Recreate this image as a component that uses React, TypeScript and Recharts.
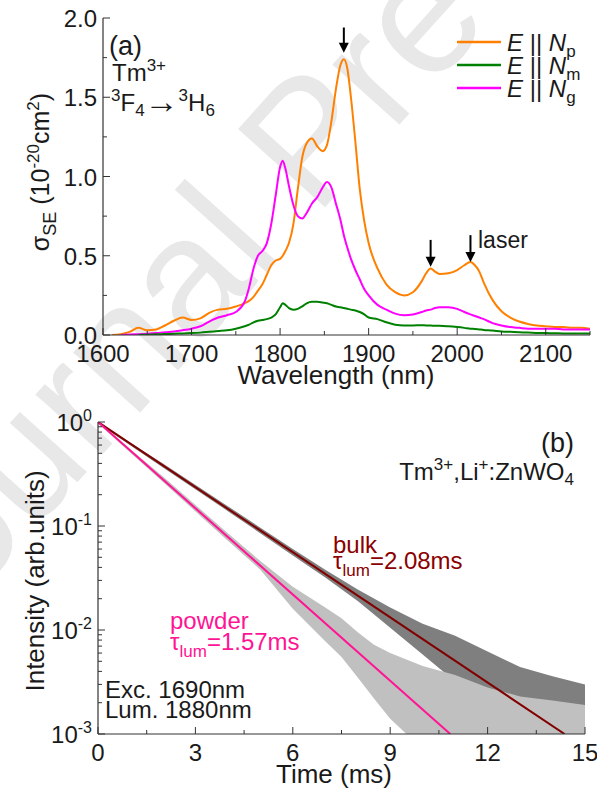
import React from "react";
import {
  LineChart,
  ComposedChart,
  Line,
  Area,
  XAxis,
  YAxis,
  ReferenceLine,
} from "recharts";

const FONT = '"Liberation Sans", Arial, sans-serif';
const AX = "#333";
const INK = "#1a1a1a";

// panel (a): emission cross-sections, 10^-20 cm^2
const wavelengths = [
  1600, 1610, 1620, 1630, 1640, 1650, 1660, 1670, 1680, 1690,
  1700, 1710, 1720, 1730, 1740, 1750, 1760, 1765, 1770, 1775,
  1780, 1785, 1790, 1795, 1800, 1803, 1806, 1810, 1815, 1820,
  1825, 1830, 1836, 1842, 1848, 1853, 1858, 1863, 1868, 1872,
  1876, 1880, 1885, 1890, 1895, 1900, 1910, 1920, 1930, 1940,
  1950, 1960, 1965, 1970, 1975, 1980, 1990, 2000, 2008, 2015,
  2020, 2025, 2030, 2040, 2050, 2060, 2070, 2080, 2090, 2100,
  2110, 2120, 2130, 2140, 2150,
];
const sigmaNp = [
  null, 0.0, 0.005, 0.02, 0.045, 0.03, 0.035, 0.06, 0.09, 0.11,
  0.095, 0.105, 0.14, 0.16, 0.165, 0.18, 0.2, 0.215, 0.24, 0.28,
  0.32, 0.38, 0.44, 0.47, 0.48, 0.5, 0.53, 0.58, 0.7, 0.92,
  1.12, 1.21, 1.24, 1.19, 1.16, 1.2, 1.35, 1.55, 1.7, 1.74,
  1.68, 1.5, 1.22, 0.92, 0.72, 0.58, 0.42, 0.32, 0.27, 0.25,
  0.27, 0.34, 0.39, 0.42, 0.4, 0.385, 0.39, 0.41, 0.44, 0.46,
  0.44, 0.4, 0.33, 0.22, 0.15, 0.11, 0.085, 0.07, 0.06, 0.055,
  0.05, 0.05, 0.045, 0.045, 0.04,
];
const sigmaNm = [
  null, null, null, null, 0.0, 0.002, 0.004, 0.006, 0.008, 0.01,
  0.012, 0.015, 0.02, 0.025, 0.03, 0.04, 0.055, 0.065, 0.08, 0.09,
  0.095, 0.1, 0.11, 0.13, 0.175, 0.2, 0.19, 0.17, 0.16, 0.165,
  0.18, 0.2, 0.21, 0.21, 0.205, 0.2, 0.19, 0.18, 0.175, 0.17,
  0.165, 0.16, 0.155, 0.145, 0.13, 0.11, 0.1, 0.08, 0.065, 0.06,
  0.06, 0.062, 0.06, 0.06, 0.058, 0.058, 0.055, 0.05, 0.045, 0.04,
  0.038, 0.035, 0.032, 0.028, 0.022, 0.02, 0.018, 0.015, 0.013, 0.012,
  0.011, 0.01, 0.01, 0.01, 0.01,
];
const sigmaNg = [
  null, null, 0.0, 0.003, 0.005, 0.008, 0.012, 0.018, 0.022, 0.03,
  0.04, 0.055, 0.085, 0.11, 0.125, 0.145, 0.21, 0.3, 0.42, 0.5,
  0.53, 0.58, 0.7, 0.88, 1.06, 1.1, 1.05, 0.94, 0.82, 0.75,
  0.735, 0.77, 0.83, 0.87, 0.93, 0.965, 0.93, 0.83, 0.73, 0.63,
  0.55, 0.48, 0.41, 0.35, 0.29, 0.25, 0.19, 0.16, 0.135, 0.125,
  0.13, 0.145, 0.155, 0.16, 0.17, 0.175, 0.175, 0.165, 0.145, 0.13,
  0.12, 0.11, 0.1, 0.075, 0.06, 0.05, 0.045, 0.04, 0.04, 0.04,
  0.04, 0.035, 0.035, 0.035, 0.035,
];
const wlTicks = [1600, 1650, 1700, 1750, 1800, 1850, 1900, 1950, 2000, 2050, 2100, 2150];
const sigmaTicks = [0, 0.25, 0.5, 0.75, 1, 1.25, 1.5, 1.75, 2];
// arrows: wavelength, tail value, tip value
const arrowWl = [1872, 1970, 2015];
const arrowTail = [1.94, 0.6, 0.63];
const arrowTip = [1.78, 0.43, 0.46];

// panel (b): decay curves (band = spread of measured points)
const bulkTime = [0, 2, 4, 6, 7, 8, 9, 10, 11, 12, 13, 14, 15];
const bulkHigh = [1.0, 0.4, 0.155, 0.06, 0.038, 0.0245, 0.0165, 0.0115, 0.0088, 0.0062, 0.0044, 0.0036, 0.003];
const bulkLow = [0.97, 0.365, 0.139, 0.052, 0.032, 0.019, 0.0105, 0.0058, 0.0032, 0.0019, 0.0012, 0.001, 0.001];
const powderTime = [0, 2, 4, 5, 6, 7, 7.5, 8, 8.5, 9, 9.5, 10, 11, 12, 13, 14, 15];
const powderHigh = [1.0, 0.3, 0.085, 0.046, 0.026, 0.0165, 0.013, 0.0095, 0.0072, 0.006, 0.0052, 0.0045, 0.0037, 0.0028, 0.0023, 0.0021, 0.0019];
const powderLow = [0.97, 0.265, 0.072, 0.038, 0.016, 0.0078, 0.0055, 0.0035, 0.0022, 0.0014, 0.001, 0.001, 0.001, 0.001, 0.001, 0.001, 0.001];
const bulkFitTime = [0, 14.37];
const bulkFitValue = [1, 0.001];
const powderFitTime = [0, 10.85];
const powderFitValue = [1, 0.001];
const timeTicks = [0, 1.5, 3, 4.5, 6, 7.5, 9, 10.5, 12, 13.5, 15];
const decayTicks = [
  0.001, 0.002, 0.003, 0.004, 0.005, 0.006, 0.007, 0.008, 0.009,
  0.01, 0.02, 0.03, 0.04, 0.05, 0.06, 0.07, 0.08, 0.09,
  0.1, 0.2, 0.3, 0.4, 0.5, 0.6, 0.7, 0.8, 0.9, 1,
];

const specRows = wavelengths.map((wl, i) => ({
  wl,
  np: sigmaNp[i],
  nm: sigmaNm[i],
  ng: sigmaNg[i],
}));
const bulkBand = bulkTime.map((t, i) => ({ t, band: [bulkLow[i], bulkHigh[i]] }));
const powderBand = powderTime.map((t, i) => ({ t, band: [powderLow[i], powderHigh[i]] }));
const bulkFit = bulkFitTime.map((t, i) => ({ t, v: bulkFitValue[i] }));
const powderFit = powderFitTime.map((t, i) => ({ t, v: powderFitValue[i] }));

const near = (a: number, b: number) => Math.abs(a - b) < 1e-6;
const isMajorLog = (v: number) => near(Math.log10(v), Math.round(Math.log10(v)));

// ticks point inward; labels sit outside
const makeTick =
  (side: "bottom" | "top" | "left" | "right", isMajor: (v: number) => boolean, label?: (v: number) => React.ReactNode) =>
  (props: any) => {
    const { x, y, payload } = props;
    const v = payload.value;
    const len = isMajor(v) ? 7 : 4;
    let line;
    if (side === "bottom") line = <line x1={x} x2={x} y1={y} y2={y - len} stroke={AX} />;
    else if (side === "top") line = <line x1={x} x2={x} y1={y} y2={y + len} stroke={AX} />;
    else if (side === "left") line = <line x1={x} x2={x + len} y1={y} y2={y} stroke={AX} />;
    else line = <line x1={x} x2={x - len} y1={y} y2={y} stroke={AX} />;
    let text = null;
    if (label && isMajor(v)) {
      text =
        side === "bottom" ? (
          <text x={x} y={y + 27} textAnchor="middle" fontSize={24} fontFamily={FONT} fill={INK}>
            {label(v)}
          </text>
        ) : (
          <text x={x - 6} y={y + 9} textAnchor="end" fontSize={24} fontFamily={FONT} fill={INK}>
            {label(v)}
          </text>
        );
    }
    return (
      <g>
        {line}
        {text}
      </g>
    );
  };

const wlMajor = (v: number) => near(v % 100, 0);
const sigmaMajor = (v: number) => near(v * 2, Math.round(v * 2));
const timeMajor = (v: number) => near(v % 3, 0);

const decayLabel = (v: number) => {
  const e = Math.round(Math.log10(v));
  return (
    <>
      10
      <tspan dy={-10} fontSize={16}>
        {e === 0 ? "0" : "-" + Math.abs(e)}
      </tspan>
    </>
  );
};

const axisCommon = {
  tickLine: false,
  tickSize: 0,
  tickMargin: 0,
  interval: 0 as const,
  allowDataOverflow: true,
  axisLine: { stroke: AX, strokeWidth: 1.2 },
};

const ArrowShape = (props: any) => {
  const { x1, y1, x2, y2 } = props;
  return (
    <g>
      <line x1={x1} x2={x2} y1={y1} y2={y2 - 8} stroke="#000" strokeWidth={2} />
      <polygon points={`${x2 - 5},${y2 - 10} ${x2 + 5},${y2 - 10} ${x2},${y2}`} fill="#000" />
    </g>
  );
};

const SpectraChart = () => (
  <LineChart width={597} height={390} data={specRows} margin={{ top: 18, right: 7, bottom: 0, left: 0 }}>
    <XAxis
      xAxisId="b"
      dataKey="wl"
      type="number"
      domain={[1600, 2150]}
      ticks={wlTicks}
      height={55}
      tick={makeTick("bottom", wlMajor, (v) => String(v))}
      {...axisCommon}
    />
    <XAxis
      xAxisId="t"
      orientation="top"
      dataKey="wl"
      type="number"
      domain={[1600, 2150]}
      ticks={wlTicks}
      height={0}
      tick={makeTick("top", wlMajor)}
      {...axisCommon}
    />
    <YAxis
      yAxisId="l"
      type="number"
      domain={[0, 2]}
      ticks={sigmaTicks}
      width={103}
      tick={makeTick("left", sigmaMajor, (v) => v.toFixed(1))}
      {...axisCommon}
    />
    <YAxis
      yAxisId="r"
      orientation="right"
      type="number"
      domain={[0, 2]}
      ticks={sigmaTicks}
      width={0}
      tick={makeTick("right", sigmaMajor)}
      {...axisCommon}
    />
    <Line xAxisId="b" yAxisId="l" type="monotone" dataKey="np" stroke="#ff8000" strokeWidth={2} dot={false} isAnimationActive={false} />
    <Line xAxisId="b" yAxisId="l" type="monotone" dataKey="ng" stroke="#ff00ff" strokeWidth={2} dot={false} isAnimationActive={false} />
    <Line xAxisId="b" yAxisId="l" type="monotone" dataKey="nm" stroke="#008000" strokeWidth={2} dot={false} isAnimationActive={false} />
    {arrowWl.map((wl, i) => (
      <ReferenceLine
        key={wl}
        xAxisId="b"
        yAxisId="l"
        segment={[
          { x: wl, y: arrowTail[i] },
          { x: wl, y: arrowTip[i] },
        ]}
        ifOverflow="visible"
        shape={ArrowShape}
      />
    ))}
  </LineChart>
);

const DecayChart = () => (
  <ComposedChart width={597} height={401} margin={{ top: 32, right: 12, bottom: 0, left: 0 }}>
    <XAxis
      xAxisId="b"
      dataKey="t"
      type="number"
      domain={[0, 15]}
      ticks={timeTicks}
      height={57}
      tick={makeTick("bottom", timeMajor, (v) => String(v))}
      {...axisCommon}
    />
    <XAxis
      xAxisId="t"
      orientation="top"
      dataKey="t"
      type="number"
      domain={[0, 15]}
      ticks={timeTicks}
      height={0}
      tick={makeTick("top", timeMajor)}
      {...axisCommon}
    />
    <YAxis
      yAxisId="l"
      type="number"
      scale="log"
      domain={[0.001, 1]}
      ticks={decayTicks}
      width={98}
      tick={makeTick("left", isMajorLog, decayLabel)}
      {...axisCommon}
    />
    <YAxis
      yAxisId="r"
      orientation="right"
      type="number"
      scale="log"
      domain={[0.001, 1]}
      ticks={decayTicks}
      width={0}
      tick={makeTick("right", isMajorLog)}
      {...axisCommon}
    />
    <Area xAxisId="b" yAxisId="l" data={bulkBand} dataKey="band" type="linear" fill="#7f7f7f" fillOpacity={1} stroke="none" isAnimationActive={false} />
    <Area xAxisId="b" yAxisId="l" data={powderBand} dataKey="band" type="linear" fill="#c0c0c0" fillOpacity={1} stroke="none" isAnimationActive={false} />
    <Line xAxisId="b" yAxisId="l" data={bulkFit} dataKey="v" type="linear" stroke="#800000" strokeWidth={2} dot={false} isAnimationActive={false} />
    <Line xAxisId="b" yAxisId="l" data={powderFit} dataKey="v" type="linear" stroke="#ff1493" strokeWidth={2} dot={false} isAnimationActive={false} />
  </ComposedChart>
);

const T = (p: any) => <text fontFamily={FONT} fill={INK} {...p} />;

const Annotations = () => (
  <svg width={597} height={791} style={{ position: "absolute", left: 0, top: 0, pointerEvents: "none" }}>
    {/* panel (a) */}
    <T x={109} y={55} fontSize={27}>(a)</T>
    <T x={112} y={81} fontSize={24}>
      Tm<tspan fontSize={17} dy={-10}>3+</tspan>
    </T>
    <T x={111} y={111} fontSize={24}>
      <tspan fontSize={17} dy={-10}>3</tspan>
      <tspan dy={10}>F</tspan>
      <tspan fontSize={17} dy={5}>4</tspan>
      <tspan fontSize={34} dy={-3}>→</tspan>
      <tspan fontSize={17} dy={-12}>3</tspan>
      <tspan dy={10}>H</tspan>
      <tspan fontSize={17} dy={5}>6</tspan>
    </T>
    {[
      { c: "#ff8000", s: "p" },
      { c: "#008000", s: "m" },
      { c: "#ff00ff", s: "g" },
    ].map((d, i) => (
      <g key={d.s}>
        <line x1={457} x2={501} y1={42 + i * 23} y2={42 + i * 23} stroke={d.c} strokeWidth={2.5} />
        <T x={507} y={51 + i * 23} fontSize={24}>
          <tspan fontStyle="italic">E</tspan> || <tspan fontStyle="italic">N</tspan>
          <tspan fontSize={17} dy={6}>{d.s}</tspan>
        </T>
      </g>
    ))}
    <T x={478} y={248} fontSize={23}>laser</T>
    <T x={336} y={384} fontSize={26} textAnchor="middle">Wavelength (nm)</T>
    <T transform="translate(49,172) rotate(-90)" fontSize={25} textAnchor="middle">
      σ<tspan fontSize={18} dy={7}>SE</tspan>
      <tspan dy={-7}> (10</tspan>
      <tspan fontSize={17} dy={-10}>-20</tspan>
      <tspan dy={10}>cm</tspan>
      <tspan fontSize={17} dy={-10}>2</tspan>
      <tspan dy={10}>)</tspan>
    </T>

    {/* panel (b) */}
    <T x={574} y={452} fontSize={27} textAnchor="end">(b)</T>
    <T x={574} y={480} fontSize={24} textAnchor="end">
      Tm<tspan fontSize={17} dy={-10}>3+</tspan>
      <tspan dy={10}>,Li</tspan>
      <tspan fontSize={17} dy={-10}>+</tspan>
      <tspan dy={10}>:ZnWO</tspan>
      <tspan fontSize={17} dy={5}>4</tspan>
    </T>
    <T x={333} y={553} fontSize={24} fill="#8b0000">bulk</T>
    <T x={333} y={569} fontSize={24} fill="#8b0000">
      τ<tspan fontSize={17} dy={7}>lum</tspan>
      <tspan dy={-7}>=2.08ms</tspan>
    </T>
    <T x={170} y={629} fontSize={24} fill="#ff1493">powder</T>
    <T x={170} y={650} fontSize={24} fill="#ff1493">
      τ<tspan fontSize={17} dy={7}>lum</tspan>
      <tspan dy={-7}>=1.57ms</tspan>
    </T>
    <T x={105} y={698} fontSize={24}>Exc. 1690nm</T>
    <T x={105} y={718} fontSize={24}>Lum. 1880nm</T>
    <T x={334} y={783} fontSize={26} textAnchor="middle">Time (ms)</T>
    <T transform="translate(44,581) rotate(-90)" fontSize={26} textAnchor="middle">
      Intensity (arb.units)
    </T>
  </svg>
);

const Watermark = () => (
  <svg width={597} height={791} style={{ position: "absolute", left: 0, top: 0 }}>
    <text
      transform="translate(-89,667) rotate(-48)"
      fontSize={170}
      fontFamily={FONT}
      fill="#e8e8e8"
    >
      Journal Pre-proof
    </text>
  </svg>
);

export default function App() {
  return (
    <div style={{ position: "absolute", left: 0, top: 0, width: 597, height: 791, background: "#fff", fontFamily: FONT }}>
      <Watermark />
      <div style={{ position: "absolute", left: 0, top: 0 }}>
        <SpectraChart />
      </div>
      <div style={{ position: "absolute", left: 0, top: 390 }}>
        <DecayChart />
      </div>
      <Annotations />
    </div>
  );
}
